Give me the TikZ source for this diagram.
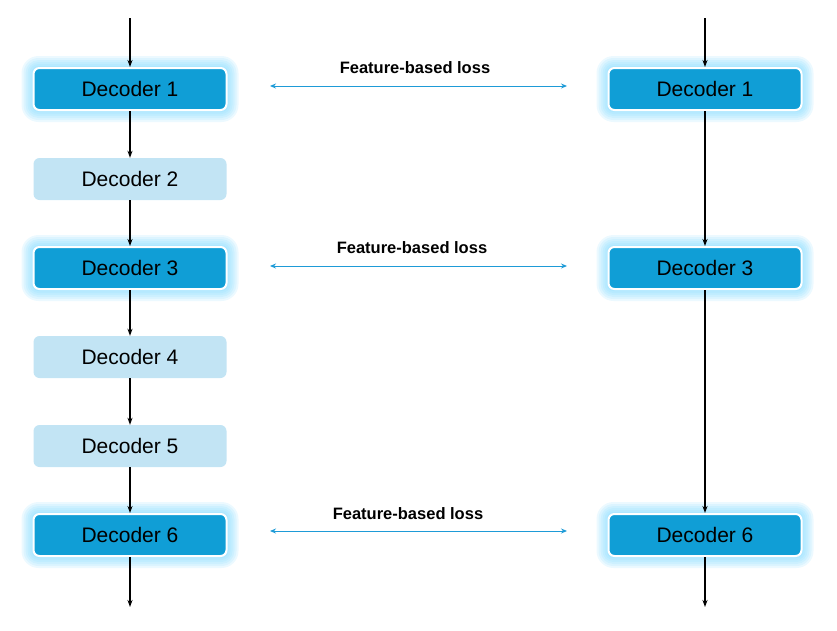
\documentclass[tikz,border=0pt]{standalone}
\usepackage{fontspec}
\setmainfont{Liberation Sans}
\usetikzlibrary{arrows.meta,backgrounds}
\definecolor{darkbox}{RGB}{16,158,214}
\definecolor{lightbox}{RGB}{194,228,244}
\definecolor{glowc}{RGB}{120,215,255}
\definecolor{lossblue}{RGB}{30,155,215}
\tikzset{
  dec/.style={rounded corners=6pt, minimum width=193pt, minimum height=42pt, inner sep=0pt,
    font=\fontsize{21}{25}\selectfont, text=black},
  keybox/.style={dec, fill=darkbox, draw=white, line width=2pt},
  plainbox/.style={dec, fill=lightbox},
  flow/.style={-{Stealth[length=7pt,width=5pt]}, line width=1.3pt, black},
  loss/.style={{Stealth[length=6pt,width=5pt]}-{Stealth[length=6pt,width=5pt]}, line width=0.9pt, lossblue},
  losslabel/.style={font=\bfseries\fontsize{16.5}{19}\selectfont, text=black, inner sep=0pt},
}
\begin{document}
\begin{tikzpicture}[x=1pt,y=-1pt]
\useasboundingbox (0,0) rectangle (837,630);
% left column
\node[keybox]   (l1) at (130,89)  {Decoder 1};
\node[plainbox] (l2) at (130,179) {Decoder 2};
\node[keybox]   (l3) at (130,268) {Decoder 3};
\node[plainbox] (l4) at (130,357) {Decoder 4};
\node[plainbox] (l5) at (130,446) {Decoder 5};
\node[keybox]   (l6) at (130,535) {Decoder 6};
% right column
\node[keybox] (r1) at (705,89)  {Decoder 1};
\node[keybox] (r3) at (705,268) {Decoder 3};
\node[keybox] (r6) at (705,535) {Decoder 6};
% glow
\begin{scope}[on background layer]
\foreach \n in {l1,l3,l6,r1,r3,r6}{
  \foreach \r in {11,9,7,5,3,1}{
    \fill[glowc, opacity=0.14, rounded corners=6pt+\r pt]
      ([xshift=-\r pt, yshift=\r pt]\n.north west) rectangle ([xshift=\r pt, yshift=-\r pt]\n.south east);
  }
}
\end{scope}
% free ends
\coordinate (lin)  at (130,18);
\coordinate (lout) at (130,607);
\coordinate (rin)  at (705,18);
\coordinate (rout) at (705,607);
% left flow
\draw[flow] (lin) -- (l1.north);
\draw[flow] (l1) -- (l2);
\draw[flow] (l2) -- (l3);
\draw[flow] (l3) -- (l4);
\draw[flow] (l4) -- (l5);
\draw[flow] (l5) -- (l6);
\draw[flow] (l6.south) -- (lout);
% right flow
\draw[flow] (rin) -- (r1.north);
\draw[flow] (r1) -- (r3);
\draw[flow] (r3) -- (r6);
\draw[flow] (r6.south) -- (rout);
% losses
\coordinate (a1) at (270,86);  \coordinate (b1) at (567,86);
\coordinate (a3) at (270,266); \coordinate (b3) at (567,266);
\coordinate (a6) at (270,531); \coordinate (b6) at (567,531);
\draw[loss] (a1) -- (b1);
\draw[loss] (a3) -- (b3);
\draw[loss] (a6) -- (b6);
\node[losslabel] (t1) at (415,68)  {Feature-based loss};
\node[losslabel] (t3) at (412,248) {Feature-based loss};
\node[losslabel] (t6) at (408,514) {Feature-based loss};
\end{tikzpicture}
\end{document}
